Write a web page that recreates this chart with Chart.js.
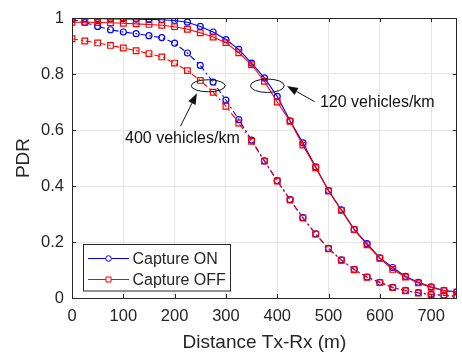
<!DOCTYPE html>
<html><head><meta charset="utf-8">
<script src="https://cdn.jsdelivr.net/npm/chart.js@4/dist/chart.umd.min.js"></script>
<style>html,body{margin:0;padding:0;background:#fff}</style>
</head><body>
<canvas id="c" width="462" height="352"></canvas>
<script>
// ---- data ----
const distances = [0,25,50,75,100,125,150,175,200,225,250,275,300,325,350,375,400,425,450,475,500,525,550,575,600,625,650,675,700,725,750];
const captureOn120 = [0.998,0.998,0.998,0.997,0.997,0.996,0.995,0.994,0.991,0.985,0.970,0.950,0.923,0.888,0.839,0.786,0.720,0.633,0.554,0.468,0.384,0.315,0.245,0.194,0.143,0.109,0.077,0.056,0.040,0.027,0.022];
const captureOff120 = [0.985,0.985,0.984,0.983,0.981,0.979,0.977,0.974,0.969,0.960,0.947,0.932,0.912,0.876,0.833,0.774,0.700,0.631,0.546,0.465,0.382,0.313,0.244,0.190,0.142,0.102,0.075,0.054,0.038,0.026,0.021];
const captureOn400 = [0.995,0.984,0.970,0.958,0.950,0.944,0.937,0.930,0.910,0.875,0.831,0.771,0.707,0.637,0.564,0.490,0.419,0.351,0.287,0.229,0.177,0.136,0.102,0.075,0.056,0.038,0.027,0.019,0.013,0.010,0.006];
const captureOff400 = [0.926,0.918,0.911,0.902,0.893,0.883,0.873,0.861,0.839,0.812,0.777,0.735,0.685,0.625,0.560,0.489,0.418,0.350,0.286,0.228,0.176,0.135,0.101,0.074,0.055,0.037,0.026,0.018,0.012,0.009,0.005];
const xTickValues = [0,100,200,300,400,500,600,700];
const xTickLabels = ['0','100','200','300','400','500','600','700'];
const yTickValues = [0,0.2,0.4,0.6,0.8,1];
const yTickLabels = ['0','0.2','0.4','0.6','0.8','1'];
const legendLabels = ['Capture ON','Capture OFF'];
const annotationLabels = ['400 vehicles/km','120 vehicles/km'];

// ---- styling ----
const FONT = "'Liberation Sans', Arial, Helvetica, sans-serif";
const TXT = '#262626';
const BLUE = '#0000ff';
const RED = '#ff0000';

function pts(arr){ return distances.map((d,i)=>({x:d,y:arr[i]})); }
function ds(label, arr, color, style, dash){
  return {label, data: pts(arr), borderColor: color, borderWidth: 1.1, borderDash: dash,
    pointStyle: style, pointRadius: style==='rect'?4:3, pointBorderWidth:1.2,
    pointBorderColor: color, pointBackgroundColor:'rgba(0,0,0,0)', pointHoverRadius:0,
    tension:0, fill:false};
}
const DASHDOT = [6,3,2,3];

const framePlugin = {
  id:'frame',
  afterDatasetsDraw(chart){
    const {ctx, chartArea:a, scales:{x,y}} = chart;
    ctx.save();
    ctx.strokeStyle = TXT; ctx.lineWidth = 1;
    ctx.beginPath();
    ctx.rect(Math.round(a.left)+0.5, Math.round(a.top)+0.5, Math.round(a.right-a.left)-1, Math.round(a.bottom-a.top));
    ctx.stroke();
    ctx.beginPath();
    xTickValues.forEach(v=>{
      const px = Math.round(x.getPixelForValue(v))+0.5;
      ctx.moveTo(px, a.bottom); ctx.lineTo(px, a.bottom-4);
      ctx.moveTo(px, a.top); ctx.lineTo(px, a.top+4);
    });
    yTickValues.forEach(v=>{
      const py = Math.round(y.getPixelForValue(v))+0.5;
      ctx.moveTo(a.left, py); ctx.lineTo(a.left+4, py);
      ctx.moveTo(a.right, py); ctx.lineTo(a.right-4, py);
    });
    ctx.stroke();
    ctx.restore();
  },
  afterDraw(chart){
    const {ctx, chartArea:a, scales:{x,y}} = chart;
    ctx.save();
    ctx.strokeStyle = '#111'; ctx.lineWidth = 1;
    const ell = (cx, cy, rx, ry) => {
      const px = x.getPixelForValue(cx), py = y.getPixelForValue(cy);
      const prx = x.getPixelForValue(cx+rx)-px, pry = py - y.getPixelForValue(cy+ry);
      ctx.beginPath(); ctx.ellipse(px, py, prx, pry, 0, 0, Math.PI*2); ctx.stroke();
    };
    ell(265.5, 0.758, 33, 0.0215);
    ell(380.8, 0.758, 33, 0.024);
    const arrow = (x1,y1,x2,y2) => {
      const ax = x.getPixelForValue(x1), ay = y.getPixelForValue(y1);
      const bx = x.getPixelForValue(x2), by = y.getPixelForValue(y2);
      const ang = Math.atan2(by-ay, bx-ax);
      const L = 11, W = 4;
      const baseX = bx - L*Math.cos(ang), baseY = by - L*Math.sin(ang);
      ctx.beginPath(); ctx.moveTo(ax, ay); ctx.lineTo(baseX, baseY); ctx.stroke();
      ctx.beginPath();
      ctx.moveTo(bx, by);
      ctx.lineTo(baseX + W*Math.sin(ang), baseY - W*Math.cos(ang));
      ctx.lineTo(baseX - W*Math.sin(ang), baseY + W*Math.cos(ang));
      ctx.closePath(); ctx.fillStyle = '#111'; ctx.fill();
    };
    arrow(211.5, 0.614, 243.5, 0.731);
    arrow(472.9, 0.701, 418.9, 0.757);
    ctx.fillStyle = '#111';
    ctx.font = `16px ${FONT}`;
    ctx.textAlign = 'left'; ctx.textBaseline = 'middle';
    ctx.fillText(annotationLabels[0], x.getPixelForValue(103.4), y.getPixelForValue(0.570));
    ctx.fillText(annotationLabels[1], x.getPixelForValue(483.3), y.getPixelForValue(0.698));

    // legend
    const lx = Math.round(a.left)+11.5, ly = Math.round(a.bottom)-53.5, lw = 147, lh = 46.5;
    ctx.fillStyle = '#fff'; ctx.fillRect(lx, ly, lw, lh);
    ctx.strokeStyle = TXT; ctx.lineWidth = 1; ctx.strokeRect(lx, ly, lw, lh);
    const items = [[BLUE,'circle'],[RED,'rect']];
    items.forEach((it, i) => {
      const yy = ly + 14 + i*21;
      ctx.strokeStyle = it[0]; ctx.lineWidth = 1;
      ctx.beginPath(); ctx.moveTo(lx+4.5, yy); ctx.lineTo(lx+45.5, yy); ctx.stroke();
      const cx = lx + 25;
      ctx.beginPath();
      if (it[1]==='circle') ctx.arc(cx, yy, 2.8, 0, Math.PI*2);
      else ctx.rect(cx-2.5, yy-2.5, 5, 5);
      ctx.fillStyle = '#fff'; ctx.fill(); ctx.stroke();
      ctx.fillStyle = TXT; ctx.font = `16px ${FONT}`;
      ctx.textAlign = 'left'; ctx.textBaseline = 'middle';
      ctx.fillText(legendLabels[i], lx + 49, yy + 1);
    });
    ctx.restore();
  }
};

new Chart(document.getElementById('c'), {
  type:'line',
  data:{ datasets:[
    ds('Capture OFF 120', captureOff120, RED, 'rect', []),
    ds('Capture OFF 400', captureOff400, RED, 'rect', DASHDOT),
    ds('Capture ON 120', captureOn120, BLUE, 'circle', []),
    ds('Capture ON 400', captureOn400, BLUE, 'circle', DASHDOT),
  ]},
  options:{
    responsive:false, animation:false, devicePixelRatio:1,
    layout:{padding:{top:18,right:1,left:0,bottom:0}},
    plugins:{legend:{display:false}, tooltip:{enabled:false}},
    events:[],
    scales:{
      x:{type:'linear', min:0, max:750,
        afterBuildTicks:s=>{ s.ticks = xTickValues.map(v=>({value:v})); },
        afterFit:s=>{ s.height = 54; },
        ticks:{callback:(v,i)=>xTickLabels[i], color:TXT, padding:10, maxRotation:0, autoSkip:false,
          font:{family:FONT, size:16.5, lineHeight:1}},
        grid:{color:'#e4e4e4', drawTicks:false, lineWidth:1},
        border:{display:false},
        title:{display:true, text:'Distance Tx-Rx (m)', color:TXT, font:{family:FONT, size:19, lineHeight:1}, padding:{top:0,bottom:0}}
      },
      y:{min:0, max:1,
        afterBuildTicks:s=>{ s.ticks = yTickValues.map(v=>({value:v})); },
        afterFit:s=>{ s.width = 72; },
        ticks:{callback:(v,i)=>yTickLabels[i], color:TXT, padding:8, autoSkip:false,
          font:{family:FONT, size:16.5, lineHeight:1}},
        grid:{color:'#e4e4e4', drawTicks:false, lineWidth:1},
        border:{display:false},
        title:{display:true, text:'PDR', color:TXT, font:{family:FONT, size:19, lineHeight:1}, padding:{top:14.5,bottom:0}}
      }
    }
  },
  plugins:[framePlugin]
});
</script>
</body></html>
